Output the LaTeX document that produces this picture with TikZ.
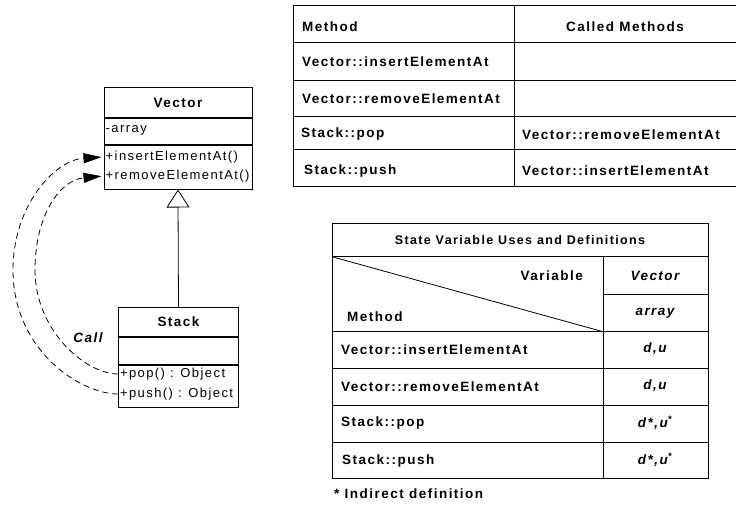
\documentclass[tikz,border=0pt]{standalone}
\usepackage{fontspec}
\setmainfont{Liberation Sans}[LetterSpace=11]
\usetikzlibrary{arrows.meta}
\begin{document}
\begin{tikzpicture}[x=1pt,y=-1pt,
  txt/.style={inner sep=0pt, font=\fontsize{13}{15}\selectfont},
  btxt/.style={inner sep=0pt, font=\fontsize{13.5}{15}\selectfont\bfseries},
  bitxt/.style={inner sep=0pt, font=\fontsize{13.5}{15}\selectfont\bfseries\itshape},
  compart/.style={draw, line width=0.9pt, inner sep=0pt, anchor=north west},
  rule/.style={line width=0.9pt},
  calls/.style={line width=0.8pt, dash pattern=on 6pt off 4pt,
    -{Triangle[length=18pt,width=10pt]}, shorten >=2pt},
  inherit/.style={line width=0.8pt, -{Triangle[open,length=18pt,width=23pt]}}
]
\useasboundingbox (0,0) rectangle (736,504);

% ---- class Vector ----
\node[compart, minimum width=148pt, minimum height=29.5pt] (vecName) at (103.5,87.3) {};
\node[compart, minimum width=148pt, minimum height=26pt] (vecAttr) at (vecName.south west) {};
\node[compart, minimum width=148pt, minimum height=44pt] (vecOps) at (vecAttr.south west) {};
\node[btxt] (vecTitle) at (vecName.center) {Vector};
\node[txt, anchor=west] (vecArr) at (105.5,130) {-array};
\node[txt, anchor=west] (insOp) at (105.5,157) {+insertElementAt()};
\node[txt, anchor=west] (remOp) at (105.5,176) {+removeElementAt()};

% ---- class Stack ----
\node[compart, minimum width=119.5pt, minimum height=28.7pt] (stkName) at (118.3,307.3) {};
\node[compart, minimum width=119.5pt, minimum height=26.7pt] (stkAttr) at (stkName.south west) {};
\node[compart, minimum width=119.5pt, minimum height=42.3pt] (stkOps) at (stkAttr.south west) {};
\node[btxt] (stkTitle) at (stkName.center) {Stack};
\node[txt, anchor=west] (popOp) at (119.8,374) {+pop() : Object};
\node[txt, anchor=west] (pushOp) at (119.8,394) {+push() : Object};

% generalisation
\draw[inherit] (stkName.north) -- (vecOps.south);

% call dependencies
\draw[calls] (pushOp.west -| stkOps.west)
  .. controls (80,394) and (13,350) .. (13,270)
  .. controls (13,205) and (55,160) .. (vecOps.west |- insOp);
\draw[calls] (popOp.west -| stkOps.west)
  .. controls (85,374) and (35,330) .. (35,270)
  .. controls (35,215) and (60,180) .. (vecOps.west |- remOp);
\node[bitxt] (callLbl) at (88,338) {Call};

% ---- table of called methods ----
\draw[rule] (736,5) -- (293,5) -- (293,186) -- (736,186);
\foreach \yy in {42.7,80,116.7,149.3} \draw[rule] (293,\yy) -- (736,\yy);
\draw[rule] (514,5) -- (514,186);
\node[btxt, anchor=west] (hMeth) at (302,26.5) {Method};
\node[btxt] (hCalled) at (625,26.5) {Called Methods};
\node[btxt, anchor=west] (m1) at (302,62) {Vector::insertElementAt};
\node[btxt, anchor=west] (m2) at (302,98.5) {Vector::removeElementAt};
\node[btxt, anchor=west] (m3) at (301,134.5) {Stack::pop};
\node[btxt, anchor=west] (m4) at (304,171) {Stack::push};
\node[btxt, anchor=west] (c3) at (522,134.5) {Vector::removeElementAt};
\node[btxt, anchor=west] (c4) at (522,171) {Vector::insertElementAt};

% ---- table of state variable uses and definitions ----
\draw[rule] (332,223) rectangle (708,478);
\draw[rule] (332,256.7) -- (708,256.7);
\draw[rule] (603,256.7) -- (603,478);
\draw[rule] (603,294) -- (708,294);
\foreach \yy in {331.7,368,405.7,442} \draw[rule] (332,\yy) -- (708,\yy);
\draw[line width=0.8pt] (332,256.7) -- (603,331.7);
\node[btxt, font=\fontsize{12.5}{15}\selectfont\bfseries] (sTitle) at (520,240) {State Variable Uses and Definitions};
\node[btxt, anchor=east] (sVar) at (583,276) {Variable};
\node[btxt, anchor=west] (sMeth) at (347,317) {Method};
\node[bitxt] (sVec) at (655,276) {Vector};
\node[bitxt] (sArr) at (655,313) {array};
\node[btxt, anchor=west] (r1) at (341,349.5) {Vector::insertElementAt};
\node[btxt, anchor=west] (r2) at (341,387) {Vector::removeElementAt};
\node[btxt, anchor=west] (r3) at (341,423.5) {Stack::pop};
\node[btxt, anchor=west] (r4) at (342,461) {Stack::push};
\node[bitxt] (v1) at (655,349) {d,u};
\node[bitxt] (v2) at (655,386) {d,u};
\node[bitxt] (v3) at (655,423) {d*,u\textsuperscript{*}};
\node[bitxt] (v4) at (655,460) {d*,u\textsuperscript{*}};
\node[btxt, anchor=west] (foot) at (334,494) {* Indirect definition};
\end{tikzpicture}
\end{document}
